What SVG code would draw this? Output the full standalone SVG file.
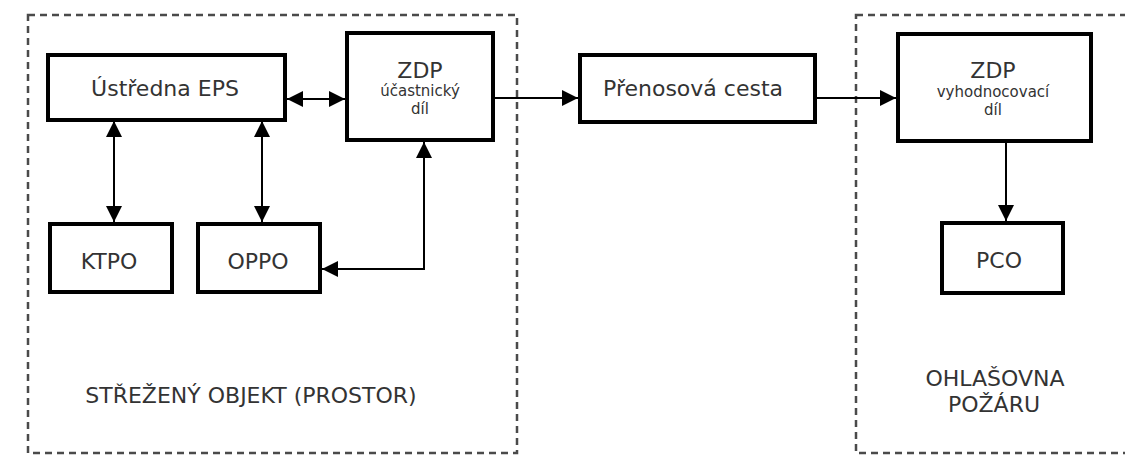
<svg xmlns="http://www.w3.org/2000/svg" width="1125" height="457" viewBox="0 0 1125 457">
  <style>
    .zone { fill: none; stroke: #4a4a4a; stroke-width: 2.5; stroke-dasharray: 7 5; }
    .box { fill: #fff; stroke: #000; stroke-width: 4; }
    .t { font-family: "DejaVu Sans", Verdana, sans-serif; fill: #333; text-anchor: middle; }
    .big { font-size: 22px; }
    .small { font-size: 15px; }
    .conn { fill: none; stroke: #000; stroke-width: 2; }
  </style>
  <defs>
    <marker id="arr" viewBox="0 0 16 16" refX="16" refY="8" markerWidth="16" markerHeight="16" markerUnits="userSpaceOnUse" orient="auto-start-reverse">
      <path d="M0,0 L16,8 L0,16 Z" fill="#000"/>
    </marker>
  </defs>
  <rect width="1125" height="457" fill="#fff"/>

  <g id="zone-objekt">
    <rect class="zone" x="28" y="15" width="489" height="438"/>
    <text class="t big" x="251" y="403">STŘEŽENÝ OBJEKT (PROSTOR)</text>
  </g>
  <g id="zone-ohlasovna">
    <rect class="zone" x="856" y="15" width="290" height="438"/>
    <text class="t big" x="995" y="386">OHLAŠOVNA</text>
    <text class="t big" x="994" y="412">POŽÁRU</text>
  </g>

  <g id="connectors">
    <line class="conn" x1="287" y1="99" x2="345" y2="99" marker-start="url(#arr)" marker-end="url(#arr)"/>
    <line class="conn" x1="495" y1="98" x2="578" y2="98" marker-end="url(#arr)"/>
    <line class="conn" x1="817" y1="98" x2="896" y2="98" marker-end="url(#arr)"/>
    <line class="conn" x1="1006" y1="143" x2="1006" y2="221" marker-end="url(#arr)"/>
    <line class="conn" x1="114" y1="121" x2="114" y2="222" marker-start="url(#arr)" marker-end="url(#arr)"/>
    <line class="conn" x1="262" y1="121" x2="262" y2="222" marker-start="url(#arr)" marker-end="url(#arr)"/>
    <polyline class="conn" points="322,269 424,269 424,142" marker-start="url(#arr)" marker-end="url(#arr)"/>
  </g>

  <g id="node-ustredna">
    <rect class="box" x="48" y="55" width="237" height="65"/>
    <text class="t big" x="165" y="96">Ústředna EPS</text>
  </g>
  <g id="node-zdp-ucastnicky">
    <rect class="box" x="347" y="33" width="146" height="107"/>
    <text class="t big" x="420" y="78">ZDP</text>
    <text class="t small" x="420" y="96">účastnický</text>
    <text class="t small" x="420" y="114">díl</text>
  </g>
  <g id="node-prenosova">
    <rect class="box" x="580" y="55" width="235" height="67"/>
    <text class="t big" x="693" y="96">Přenosová cesta</text>
  </g>
  <g id="node-zdp-vyhodnocovaci">
    <rect class="box" x="898" y="34" width="193" height="107"/>
    <text class="t big" x="993" y="78">ZDP</text>
    <text class="t small" x="993" y="97">vyhodnocovací</text>
    <text class="t small" x="993" y="115">díl</text>
  </g>
  <g id="node-ktpo">
    <rect class="box" x="50" y="224" width="122" height="68"/>
    <text class="t big" x="109" y="269">KTPO</text>
  </g>
  <g id="node-oppo">
    <rect class="box" x="198" y="224" width="122" height="68"/>
    <text class="t big" x="258" y="269">OPPO</text>
  </g>
  <g id="node-pco">
    <rect class="box" x="942" y="223" width="121" height="70"/>
    <text class="t big" x="999" y="268">PCO</text>
  </g>
</svg>
